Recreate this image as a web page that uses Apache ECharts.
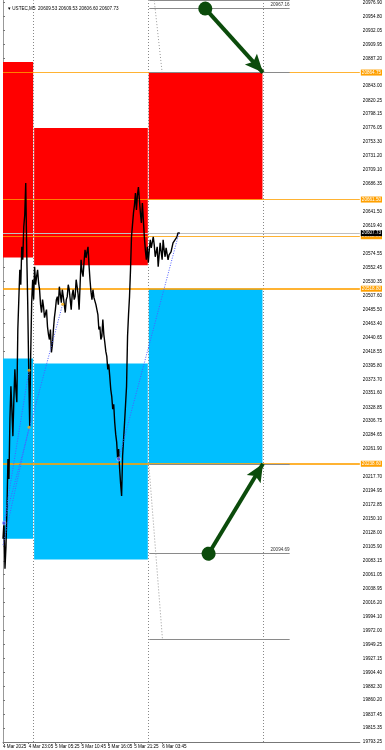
<!DOCTYPE html>
<html><head><meta charset="utf-8">
<script src="https://cdn.jsdelivr.net/npm/echarts@6/dist/echarts.min.js"></script>
<style>html,body{margin:0;padding:0;background:#fff}#c{width:385px;height:750px}</style>
</head><body><div id="c"></div>
<script>
const headerText = '\u25BE USTEC,M5  20609.53 20609.53 20606.60 20607.73';
const yMin = 19793.25, yMax = 20980.4;
const xMin = 0, xMax = 4332; // trading minutes from first visible bar
const yTickValues = [20976.90,20954.80,20932.05,20909.95,20887.20,20843.00,20820.25,20798.15,20776.05,20753.30,20731.20,20709.10,20686.35,20641.50,20619.40,20574.55,20552.45,20530.35,20507.60,20485.50,20463.40,20440.65,20418.55,20395.80,20373.70,20351.60,20328.85,20306.75,20284.65,20261.90,20217.70,20194.95,20172.85,20150.10,20128.00,20105.90,20083.15,20061.05,20038.95,20016.20,19994.10,19972.00,19949.25,19927.15,19904.40,19882.30,19860.20,19837.45,19815.35,19793.25];
const xTickMinutes = [0,312,632,952,1272,1592,1932];
const xTickLabels = ['4 Mar 2025','4 Mar 23:05','5 Mar 05:25','5 Mar 10:45','5 Mar 16:05','5 Mar 21:25','6 Mar 03:45'];
const daySeparators = [372,1764,3160];
const priceStart = 0, priceStepMin = 12;
const priceValues = [
20118.6,20145.7,20070.7,20105.8,20166.4,20246.1,20214.2,20309.9,20362.6,20325.9,
20282.8,20341.8,20389.7,20357.8,20337.0,20453.4,20501.3,20549.1,20525.2,20585.8,
20565.1,20617.7,20636.8,20687.9,20576.2,20496.5,20389.7,20298.8,20410.4,20496.5,
20533.2,20501.3,20553.9,20525.2,20538.0,20549.1,20528.4,20517.2,20493.3,20480.6,
20501.3,20490.1,20472.6,20469.4,20485.3,20458.2,20445.5,20437.5,20453.4,20416.8,
20429.5,20453.4,20472.6,20485.3,20501.3,20506.1,20493.3,20522.0,20509.3,20496.5,
20517.2,20506.1,20493.3,20480.6,20501.3,20506.1,20525.2,20517.2,20501.3,20485.3,
20509.3,20517.2,20501.3,20506.1,20533.2,20522.0,20509.3,20485.3,20525.2,20565.1,
20545.9,20538.0,20561.9,20581.0,20568.3,20577.8,20585.8,20557.1,20533.2,20514.0,
20501.3,20517.2,20504.5,20506.1,20493.3,20496.5,20477.4,20453.4,20458.2,20437.5,
20442.3,20469.4,20445.5,20432.7,20418.4,20410.4,20389.7,20397.6,20378.5,20357.8,
20346.6,20325.9,20333.8,20305.1,20286.0,20273.2,20246.1,20262.1,20230.2,20206.3,
20187.1,20250.9,20278.0,20305.1,20333.8,20362.6,20442.3,20477.4,20506.1,20549.1,
20601.8,20620.9,20640.0,20652.8,20671.9,20644.8,20668.7,20681.5,20660.8,20640.0,
20624.1,20656.0,20628.9,20601.8,20581.0,20565.1,20585.8,20560.3,20581.0,20597.0,
20584.2,20581.0,20601.8,20589.0,20569.9,20577.8,20585.8,20553.9,20573.1,20592.2,
20577.8,20565.1,20597.0,20581.0,20569.9,20584.2,20581.0,20565.1,20573.1,20569.9,
20577.8,20581.0,20592.2,20589.0,20597.0,20600.2,20601.8,20608.1,20606.5,20607.73];
const bidPrice = 20607.73;
// zones: [fromMin, toMin, topPrice, bottomPrice]
const redZones = [[0,366,20881.7,20568.7],[378,1758,20776.1,20556.4],[1770,3150,20864.75,20661.5]];
const blueZones = [[0,366,20407.1,20118.5],[378,1758,20399.1,20085.2],[1770,3150,20518.8,20238.6]];
const orangeLevels = [20864.75,20661.5,20602.8,20518.8,20238.6];
const grayLevelSpan = [1776,3480];
const grayLevels = [20980.0,20967.16,20864.75,20238.6,20094.69,19957.5];
const grayLabeled = [20967.16,20094.69];
const fanLines = [[[1836,20980.4],[1932,20864.75]],[[1770,20238.6],[1936,19957.5]]];
const trendLines = [[[12,20143.6],[724,20494.0]],[[12,20143.6],[316,20388.4]],[[0,20108.4],[316,20297.2]],[[1404,20246.0],[2136,20607.7]]];
const trendEndDots = [[724,20494.0],[316,20388.4],[316,20297.2]];
const trendStartDots = [[12,20143.6],[1404,20246.0]];
const arrowLines = [[[2456,20967.16],[3156,20864.75]],[[2496,20094.69],[3156,20238.6]]];

const FONT = 'Liberation Sans';
const FS = 4.6;
const chart = echarts.init(document.getElementById('c'), null, {renderer:'canvas'});

const priceData = priceValues.map((v,i)=>[priceStart + i*priceStepMin, v]);

const zoneArea = (zones, color) => zones.map(z => [
  {coord:[z[0], z[2]], itemStyle:{color}},
  {coord:[z[1], z[3]]}
]);

// arrowhead whose tip sits at the centre of its (square) bounding box
const arrowHead = 'path://M-20,-20 M20,20 M0,0 L9,20 L0,16 L-9,20 Z';

const option = {
  animation:false,
  backgroundColor:'#fff',
  title:{text:headerText, left:3, top:1, textStyle:{fontSize:FS, fontWeight:'normal', color:'#000', fontFamily:FONT}},
  grid:{left:2, right:22, top:0, bottom:8, containLabel:false},
  xAxis:{type:'value', min:xMin, max:xMax, position:'bottom',
    splitLine:{show:false},
    axisLine:{show:true, onZero:false, lineStyle:{color:'#777', width:1}},
    axisTick:{show:true, length:2, customValues:xTickMinutes, lineStyle:{color:'#777'}},
    axisLabel:{customValues:xTickMinutes, formatter:v=>xTickLabels[xTickMinutes.indexOf(v)] || '', align:'left', fontSize:FS, color:'#000', margin:2, fontFamily:FONT}
  },
  yAxis:[
    {type:'value', position:'right', min:yMin, max:yMax, scale:true,
      splitLine:{show:false},
      axisLine:{show:true, lineStyle:{color:'#777', width:1}},
      axisTick:{show:true, length:2, customValues:yTickValues, lineStyle:{color:'#777'}},
      axisLabel:{customValues:yTickValues, formatter:v=>v.toFixed(2), fontSize:FS, color:'#000', margin:3, fontFamily:FONT}
    },
    {type:'value', position:'left', min:yMin, max:yMax, scale:true,
      splitLine:{show:false}, axisTick:{show:false}, axisLabel:{show:false},
      axisLine:{show:true, lineStyle:{color:'#999', width:1}}
    }
  ],
  series:[
    {type:'line', name:'zones', data:[], z:1, silent:true,
      markArea:{silent:true, data:[...zoneArea(redZones,'#ff0000'), ...zoneArea(blueZones,'#00bfff')]}
    },
    {type:'line', name:'separators', data:[], z:2, silent:true,
      markLine:{silent:true, symbol:'none', label:{show:false},
        lineStyle:{color:'#888', type:[1,2], width:1},
        data:daySeparators.map(m=>({xAxis:m}))}
    },
    {type:'line', name:'orange', data:[], z:3, silent:true,
      markLine:{silent:true, symbol:'none',
        lineStyle:{color:'rgba(255,160,0,0.8)', width:1, type:'solid'},
        label:{show:true, position:'end', distance:1, formatter:p=>p.value.toFixed(2), backgroundColor:'#ffa000', color:'#fff', fontSize:FS, padding:[1,1,0,1], fontFamily:FONT},
        data:orangeLevels.map((v,i)=>({yAxis:v, lineStyle:{width:(i>=3?1.8:1), type:'solid'}}))}
    },
    {type:'line', name:'bid', data:[], z:3, silent:true,
      markLine:{silent:true, symbol:'none',
        lineStyle:{color:'#c0c0c0', width:1, type:'solid'},
        label:{show:true, position:'end', distance:1, formatter:p=>p.value.toFixed(2), backgroundColor:'#000', color:'#fff', fontSize:FS, padding:[1,1,0,1], fontFamily:FONT},
        data:[{yAxis:bidPrice}]}
    },
    {type:'line', name:'levels', data:[], z:4, silent:true,
      markLine:{silent:true, symbol:'none',
        lineStyle:{color:'#8a8a8a', width:1, type:'solid'},
        data:[
          ...grayLevels.map(v=>[
            {coord:[grayLevelSpan[0], v], label:{show:grayLabeled.includes(v), position:'insideEndTop', distance:[0,1], formatter:v.toFixed(2), fontSize:FS, color:'#333', fontFamily:FONT}},
            {coord:[grayLevelSpan[1], v]}
          ]),
          ...fanLines.map(l=>[
            {coord:l[0], lineStyle:{type:[1,2], color:'#999'}, label:{show:false}},
            {coord:l[1]}
          ])
        ]}
    },
    {type:'line', name:'price', data:priceData, z:6, showSymbol:false, silent:true,
      lineStyle:{color:'#000', width:1.4}, itemStyle:{color:'#000'}},
    {type:'lines', name:'trends', coordinateSystem:'cartesian2d', z:7, silent:true,
      polyline:false, symbol:'none',
      lineStyle:{color:'#4d5cff', width:1, type:[1,1.5], opacity:1},
      data:trendLines.map(l=>({coords:l}))
    },
    {type:'scatter', name:'endDots', data:trendEndDots, z:8, symbolSize:3, itemStyle:{color:'#ffb000'}, silent:true},
    {type:'scatter', name:'startDots', data:trendStartDots, z:8, symbolSize:4, itemStyle:{color:'#4d5cff', borderColor:'#fff', borderWidth:0.5}, silent:true},
    {type:'lines', name:'arrows', coordinateSystem:'cartesian2d', z:9, silent:true,
      symbol:['circle', arrowHead], symbolSize:[14,36],
      lineStyle:{color:'#0b4b0b', width:4, opacity:1}, itemStyle:{color:'#0b4b0b'},
      data:arrowLines.map(l=>({coords:l}))
    }
  ]
};
chart.setOption(option);
</script></body></html>
